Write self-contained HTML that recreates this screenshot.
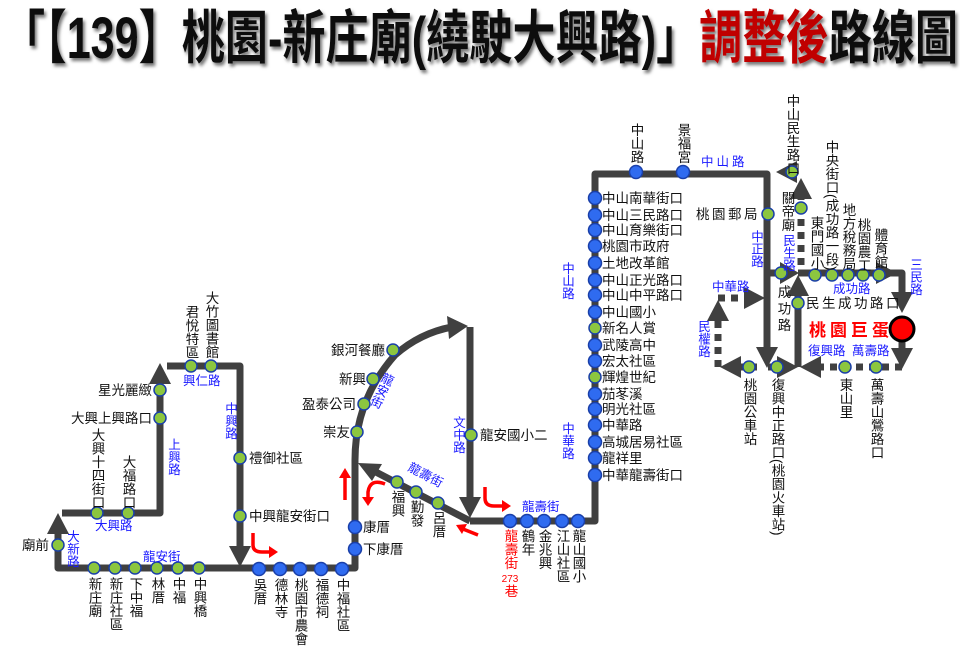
<!DOCTYPE html>
<html><head><meta charset="utf-8"><style>
html,body{margin:0;padding:0;background:#fff}
svg{display:block}
text{font-family:"Liberation Sans","Noto Sans CJK TC",sans-serif}
.s{font-size:13.5px;fill:#111}
.v{font-size:13.5px;fill:#111;writing-mode:vertical-rl}
.b{font-size:12.5px;fill:#1a1aff}
.bv{font-size:12.5px;fill:#1a1aff;writing-mode:vertical-rl}
</style></head><body>
<svg width="960" height="665" viewBox="0 0 960 665" xmlns="http://www.w3.org/2000/svg">
<defs>
<filter id="sh"><feDropShadow dx="2" dy="3" stdDeviation="1.5" flood-color="#777"/></filter>
</defs>
<text x="2" y="58" font-size="58" font-weight="bold" textLength="956" lengthAdjust="spacingAndGlyphs" filter="url(#sh)" style="fill:#111">「【139】桃園-新庄廟(繞駛大興路)」<tspan style="fill:#c00000">調整後</tspan>路線圖</text>

<g fill="none" stroke="#404040" stroke-width="7" stroke-linejoin="round">
<path d="M62 513 H160 V382"/>
<path d="M167 366 H240 V548"/>
<path d="M58 532 V568 H355 V460"/>
<path d="M355 460 Q355 400 395 355 Q420 333 452 327" />
<path d="M470 327 V500"/>
<path d="M470 521 H595 V174 H767 V350"/>
<path d="M470 521 L372 470"/>
<path d="M792 172 H790"/>
<path d="M768 273 H783"/>
<path d="M798 273 H880"/>
<path d="M888 273 H902 V296"/>
<path d="M798 367 V295"/>
</g>
<g fill="none" stroke="#404040" stroke-width="7" stroke-dasharray="7 6">
<path d="M801 265 V195"/>
<path d="M902 342 V352"/>
<path d="M902 367 H818"/>
<path d="M768 367 H782"/>
<path d="M757 367 H738"/>
<path d="M718 367 V318"/>
<path d="M718 298 H747"/>
</g>
<g fill="#404040">
<polygon points="160,363 149,384 171,384"/>
<polygon points="240,567 229,546 251,546"/>
<polygon points="58,513 47,534 69,534"/>
<polygon points="468,326 447,316 449,339"/>
<polygon points="470,518 459,497 481,497"/>
<polygon points="358,463 382,464 372,481"/>
<polygon points="767,368 756,347 778,347"/>
<polygon points="776,172 797,161 797,183"/>
<polygon points="801,178 790,199 812,199"/>
<polygon points="799,273 780,262 780,284"/>
<polygon points="897,273 876,262 876,284"/>
<polygon points="902,313 891,292 913,292"/>
<polygon points="798,275 787,296 809,296"/>
<polygon points="902,369 891,348 913,348"/>
<polygon points="800,367 821,356 821,378"/>
<polygon points="798,367 777,356 777,378"/>
<polygon points="720,367 741,356 741,378"/>
<polygon points="718,300 707,321 729,321"/>
<polygon points="765,298 744,287 744,309"/>
</g>
<circle cx="902" cy="329" r="12" fill="#f00" stroke="#000" stroke-width="3"/>

<g fill="none" stroke="#f00" stroke-width="3.5">
<path d="M253 533 V545 Q253 552 262 552 H272"/>
<path d="M345 500 V475"/>
<path d="M385 484 Q370 478 368 492 V500"/>
<path d="M478 535 L463 529"/>
<path d="M485 487 V498 Q485 506 494 506 H505"/>
</g>
<g fill="#f00">
<polygon points="278,552 269,546 269,558"/>
<polygon points="345,468 339,478 351,478"/>
<polygon points="368,506 362,497 374,497"/>
<polygon points="456,525 467,524 462,534"/>
<polygon points="511,506 502,500 502,512"/>
</g>

<g stroke="#1a3fa8" stroke-width="1.5">
<g fill="#8cc63f">
<circle cx="97" cy="513" r="6"/><circle cx="128" cy="513" r="6"/>
<circle cx="160" cy="418" r="6"/><circle cx="160" cy="390" r="6"/>
<circle cx="191" cy="366" r="6"/><circle cx="211" cy="366" r="6"/>
<circle cx="240" cy="458" r="6"/><circle cx="240" cy="516" r="6"/>
<circle cx="58" cy="545" r="6"/>
<circle cx="94" cy="568" r="6"/><circle cx="115" cy="568" r="6"/><circle cx="135" cy="568" r="6"/>
<circle cx="157" cy="568" r="6"/><circle cx="178" cy="568" r="6"/><circle cx="199" cy="568" r="6"/>
<circle cx="357" cy="432" r="6"/><circle cx="364" cy="404" r="6"/><circle cx="373" cy="379" r="6"/><circle cx="393" cy="350" r="6"/>
<circle cx="397" cy="482" r="6"/><circle cx="416" cy="492" r="6"/><circle cx="438" cy="503" r="6"/>
<circle cx="471" cy="435" r="6"/>
<circle cx="595" cy="328" r="6"/><circle cx="595" cy="377" r="6"/>
<circle cx="792" cy="172" r="6"/><circle cx="801" cy="208" r="6"/><circle cx="768" cy="214" r="6"/>
<circle cx="781" cy="273" r="6"/>
<circle cx="815" cy="275" r="6"/><circle cx="832" cy="275" r="6"/><circle cx="848" cy="275" r="6"/><circle cx="863" cy="275" r="6"/><circle cx="879" cy="275" r="6"/>
<circle cx="798" cy="303" r="6"/>
<circle cx="845" cy="367" r="6"/><circle cx="876" cy="367" r="6"/>
<circle cx="777" cy="367" r="6"/><circle cx="749" cy="367" r="6"/>
</g>
<g fill="#2f6bf0">
<circle cx="259" cy="569" r="6.5"/><circle cx="280" cy="569" r="6.5"/><circle cx="300" cy="569" r="6.5"/><circle cx="321" cy="569" r="6.5"/><circle cx="342" cy="569" r="6.5"/>
<circle cx="355" cy="527" r="6.5"/><circle cx="355" cy="549" r="6.5"/>
<circle cx="510" cy="521" r="6.5"/><circle cx="527" cy="521" r="6.5"/><circle cx="544" cy="521" r="6.5"/><circle cx="562" cy="521" r="6.5"/><circle cx="578" cy="521" r="6.5"/>
<circle cx="636" cy="172" r="6.5"/><circle cx="683" cy="172" r="6.5"/>
<circle cx="595" cy="198" r="6.5"/><circle cx="595" cy="215" r="6.5"/><circle cx="595" cy="230" r="6.5"/><circle cx="595" cy="246" r="6.5"/>
<circle cx="595" cy="263" r="6.5"/><circle cx="595" cy="280" r="6.5"/><circle cx="595" cy="295" r="6.5"/><circle cx="595" cy="312" r="6.5"/>
<circle cx="595" cy="345" r="6.5"/><circle cx="595" cy="361" r="6.5"/>
<circle cx="595" cy="394" r="6.5"/><circle cx="595" cy="409" r="6.5"/><circle cx="595" cy="425" r="6.5"/><circle cx="595" cy="442" r="6.5"/><circle cx="595" cy="458" r="6.5"/><circle cx="595" cy="475" r="6.5"/>
</g>
</g>

<text class="v" x="97" y="428">大興十四街口</text>
<text class="v" x="128" y="455">大福路口</text>
<text class="b" x="95" y="530">大興路</text>
<text class="s" x="152" y="423" text-anchor="end">大興上興路口</text>
<text class="s" x="152" y="395" text-anchor="end">星光麗緻</text>
<text class="bv" x="173" y="438">上興路</text>
<text class="v" x="191" y="305">君悅特區</text>
<text class="v" x="211" y="291">大竹圖書館</text>
<text class="b" x="183" y="385">興仁路</text>
<text class="bv" x="230" y="402">中興路</text>
<text class="s" x="249" y="463">禮御社區</text>
<text class="s" x="249" y="521">中興龍安街口</text>
<text class="s" x="49" y="550" text-anchor="end">廟前</text>
<text class="bv" x="72" y="530">大新路</text>
<text class="b" x="143" y="561">龍安街</text>
<text class="v" x="94" y="577">新庄廟</text>
<text class="v" x="115" y="577">新庄社區</text>
<text class="v" x="135" y="577">下中福</text>
<text class="v" x="157" y="577">林厝</text>
<text class="v" x="178" y="577">中福</text>
<text class="v" x="199" y="577">中興橋</text>
<text class="v" x="259" y="578">吳厝</text>
<text class="v" x="280" y="578">德林寺</text>
<text class="v" x="300" y="578">桃園市農會</text>
<text class="v" x="321" y="578">福德祠</text>
<text class="v" x="342" y="578">中福社區</text>
<text class="s" x="363" y="532">康厝</text>
<text class="s" x="363" y="554">下康厝</text>
<text class="s" x="350" y="437" text-anchor="end">崇友</text>
<text class="s" x="356" y="409" text-anchor="end">盈泰公司</text>
<text class="s" x="366" y="384" text-anchor="end">新興</text>
<text class="s" x="385" y="355" text-anchor="end">銀河餐廳</text>
<text class="bv" transform="translate(389,373) rotate(25)">龍安街</text>
<text class="b" transform="translate(407,470) rotate(28)">龍壽街</text>
<text class="v" x="397" y="490">福興</text>
<text class="v" x="416" y="500">勤發</text>
<text class="v" x="438" y="511">呂厝</text>
<text class="bv" x="458" y="416">文中路</text>
<text class="s" x="480" y="440">龍安國小二</text>
<text class="b" x="522" y="511">龍壽街</text>
<text class="v" x="510" y="529" style="fill:#f00">龍壽街</text>
<text x="510" y="582" font-size="10" fill="#f00" text-anchor="middle">273</text>
<text class="v" x="510" y="584" style="fill:#f00">巷</text>
<text class="v" x="527" y="529">鶴年</text>
<text class="v" x="544" y="529">金兆興</text>
<text class="v" x="562" y="529">江山社區</text>
<text class="v" x="578" y="529">龍山國小</text>

<text class="bv" x="567" y="262">中山路</text>
<text class="bv" x="567" y="422">中華路</text>
<text class="s" x="602" y="203">中山南華街口</text>
<text class="s" x="602" y="220">中山三民路口</text>
<text class="s" x="602" y="235">中山育樂街口</text>
<text class="s" x="602" y="251">桃園市政府</text>
<text class="s" x="602" y="268">土地改革館</text>
<text class="s" x="602" y="285">中山正光路口</text>
<text class="s" x="602" y="300">中山中平路口</text>
<text class="s" x="602" y="317">中山國小</text>
<text class="s" x="602" y="333">新名人賞</text>
<text class="s" x="602" y="350">武陵高中</text>
<text class="s" x="602" y="366">宏太社區</text>
<text class="s" x="602" y="382">輝煌世紀</text>
<text class="s" x="602" y="399">茄苳溪</text>
<text class="s" x="602" y="414">明光社區</text>
<text class="s" x="602" y="430">中華路</text>
<text class="s" x="602" y="447">高城居易社區</text>
<text class="s" x="602" y="463">龍祥里</text>
<text class="s" x="602" y="480">中華龍壽街口</text>
<text class="v" x="636" y="123">中山路</text>
<text class="v" x="683" y="123">景福宮</text>
<text class="b" x="701" y="166" letter-spacing="3">中山路</text>

<text class="s" x="760" y="219" text-anchor="end" letter-spacing="2.5">桃園郵局</text>
<text class="bv" x="756" y="230">中正路</text>
<text class="v" x="792" y="94">中山民生路口</text>
<text class="v" x="787" y="191">關帝廟</text>
<text class="bv" x="788" y="234">民生路</text>
<text class="v" x="816" y="216">東門國小</text>
<text class="v" x="831" y="140">中央街口(成功路一段)</text>
<text class="v" x="848" y="203">地方稅務局</text>
<text class="v" x="863" y="218">桃園農工</text>
<text class="v" x="880" y="228">體育館</text>
<text class="b" x="833" y="293">成功路</text>
<text class="bv" x="915" y="258">三民路</text>
<text class="v" x="783" y="285" style="letter-spacing:3px">成功路</text>
<text class="s" x="806" y="308" letter-spacing="2.5">民生成功路口</text>
<text x="809" y="336" font-size="17" font-weight="bold" fill="#f00" letter-spacing="4">桃園巨蛋</text>
<text class="b" x="712" y="291">中華路</text>
<text class="bv" x="703" y="320">民權路</text>
<text class="b" x="808" y="355">復興路</text>
<text class="b" x="852" y="355">萬壽路</text>
<text class="v" x="749" y="378">桃園公車站</text>
<text class="v" x="777" y="378">復興中正路口(桃園火車站)</text>
<text class="v" x="845" y="378">東山里</text>
<text class="v" x="876" y="378">萬壽山鶯路口</text>
</svg>
</body></html>
